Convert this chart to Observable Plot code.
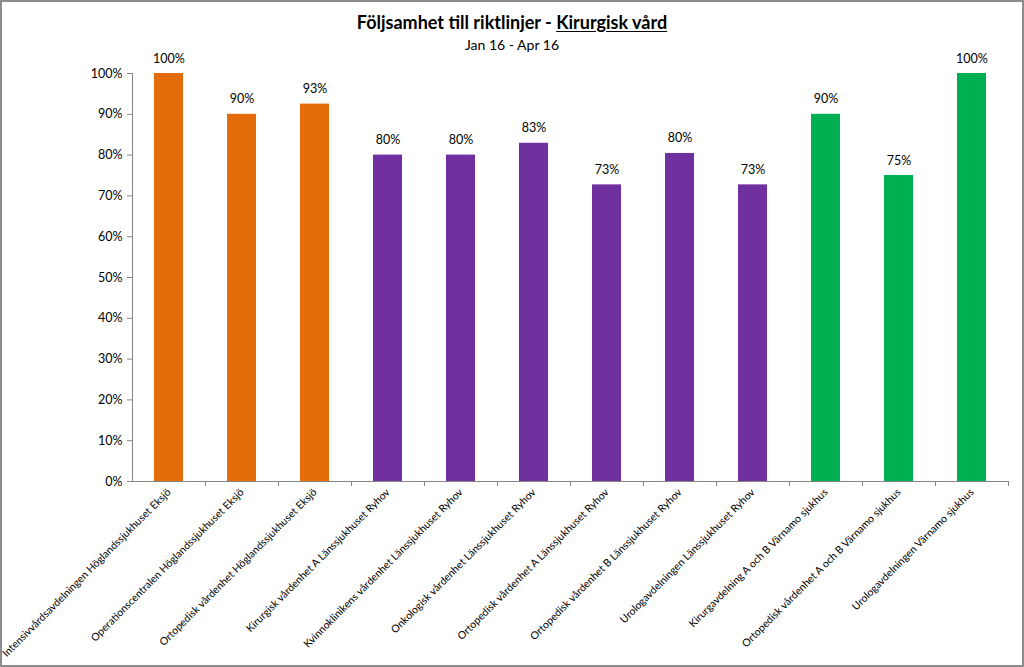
<!DOCTYPE html>
<html>
<head>
<meta charset="utf-8">
<script src="https://cdn.jsdelivr.net/npm/d3@7"></script>
<script src="https://cdn.jsdelivr.net/npm/@observablehq/plot@0.6"></script>
<style>
  html, body { margin: 0; padding: 0; background: #fff; }
  #wrap { position: relative; width: 1024px; height: 667px; overflow: hidden; font-family: Lato, "Liberation Sans", sans-serif; color: #000; background: #fff; }
  #frame { position: absolute; left: 0; top: 0; width: 1024px; height: 667px; box-sizing: border-box; border: 2px solid #8c8c8c; pointer-events: none; }
  #title { position: absolute; left: 0; top: 11px; width: 1024px; text-align: center; font-weight: bold; font-size: 18px; line-height: 22px; }
  #title u { text-decoration: underline; text-underline-offset: 2px; }
  #subtitle { position: absolute; left: 0; top: 36px; width: 1024px; text-align: center; font-size: 14px; line-height: 18px; }
  #chart { position: absolute; left: 0; top: 40px; }
</style>
</head>
<body>
<div id="wrap">
  <div id="chart"></div>
  <div id="title">Följsamhet till riktlinjer - <u>Kirurgisk vård</u></div>
  <div id="subtitle">Jan 16 - Apr 16</div>
  <div id="frame"></div>
</div>
<script>
const categories = [
  "Intensivvårdsavdelningen Höglandssjukhuset Eksjö",
  "Operationscentralen Höglandssjukhuset Eksjö",
  "Ortopedisk vårdenhet Höglandssjukhuset Eksjö",
  "Kirurgisk vårdenhet A Länssjukhuset Ryhov",
  "Kvinnoklinikens vårdenhet Länssjukhuset Ryhov",
  "Onkologisk vårdenhet Länssjukhuset Ryhov",
  "Ortopedisk vårdenhet A Länssjukhuset Ryhov",
  "Ortopedisk vårdenhet B Länssjukhuset Ryhov",
  "Urologavdelningen Länssjukhuset Ryhov",
  "Kirurgavdelning A och B Värnamo sjukhus",
  "Ortopedisk vårdenhet A och B Värnamo sjukhus",
  "Urologavdelningen Värnamo sjukhus"
];
const values = [100, 90, 92.5, 80, 80, 82.9, 72.7, 80.4, 72.7, 90, 75, 100];
const groups = [
  "Höglandssjukhuset", "Höglandssjukhuset", "Höglandssjukhuset",
  "Länssjukhuset Ryhov", "Länssjukhuset Ryhov", "Länssjukhuset Ryhov",
  "Länssjukhuset Ryhov", "Länssjukhuset Ryhov", "Länssjukhuset Ryhov",
  "Värnamo sjukhus", "Värnamo sjukhus", "Värnamo sjukhus"
];
const groupNames = ["Höglandssjukhuset", "Länssjukhuset Ryhov", "Värnamo sjukhus"];
const groupColors = ["#E46C0A", "#7030A0", "#00B050"];
const yTicks = [0, 10, 20, 30, 40, 50, 60, 70, 80, 90, 100];

const data = categories.map((c, i) => ({category: c, value: values[i], group: groups[i]}));

const marginLeft = 132, marginRight = 16, width = 1024;
const step = (width - marginLeft - marginRight) / categories.length;

const chart = Plot.plot({
  width: width,
  height: 627,
  marginLeft: marginLeft,
  marginRight: marginRight,
  marginTop: 33,
  marginBottom: 186,
  style: {fontFamily: "Lato, 'Liberation Sans', sans-serif", color: "#000", background: "transparent"},
  x: {domain: categories, paddingInner: 0.6, paddingOuter: 0.3, label: null},
  y: {domain: [0, 100], label: null},
  color: {domain: groupNames, range: groupColors},
  marks: [
    Plot.barY(data, {x: "category", y: "value", fill: "group"}),
    Plot.text(data, {x: "category", y: "value", text: d => Math.round(d.value) + "%", dy: -15, fontSize: 12.5, fill: "#000"}),
    Plot.frame({anchor: "left", stroke: "#868686"}),
    Plot.ruleY([0], {stroke: "#868686"}),
    Plot.axisY({ticks: yTicks, tickFormat: d => d + "%", tickSize: 5, tickPadding: 5, fontSize: 12.5, stroke: "#868686", label: null, fill: "#000"}),
    Plot.axisX({ticks: categories, text: null, tickSize: 5, dx: step / 2, stroke: "#868686", label: null}),
    Plot.axisX({ticks: categories, tickSize: 0, tickPadding: 9, tickRotate: -45, fontSize: 10.5, label: null, fill: "#000"})
  ]
});
document.getElementById("chart").appendChild(chart);
</script>
</body>
</html>
